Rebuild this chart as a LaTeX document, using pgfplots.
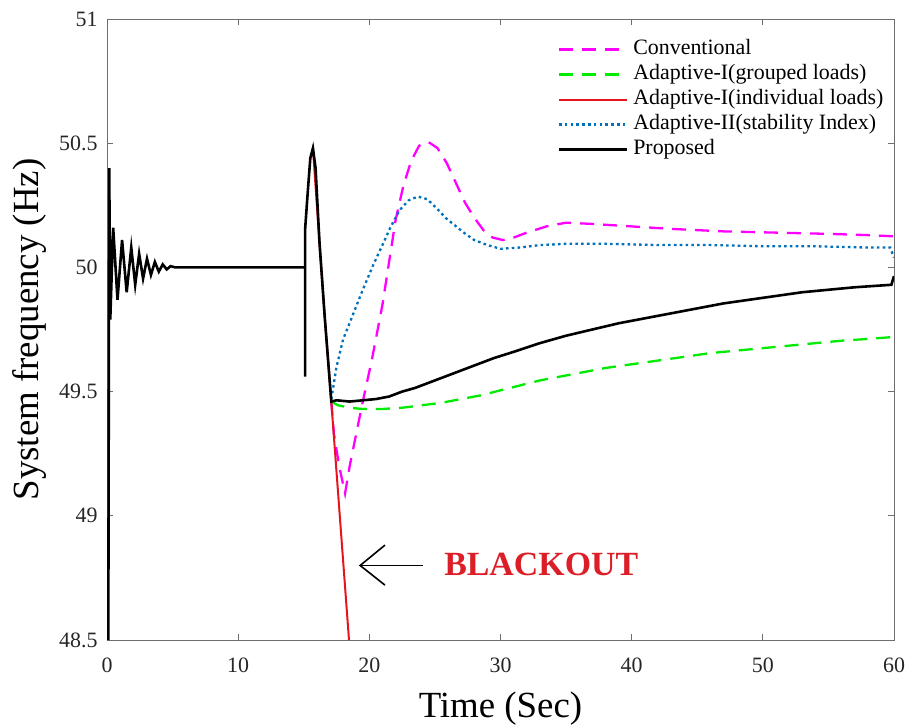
\documentclass[border=0pt]{standalone}
\usepackage{fontspec}
\setmainfont{Liberation Serif}
\usepackage{pgfplots}
\pgfplotsset{compat=1.18}
\definecolor{cmag}{RGB}{255,0,255}
\definecolor{cgreen}{RGB}{0,235,0}
\definecolor{cred}{RGB}{230,20,30}
\definecolor{cblue}{RGB}{0,114,189}
\definecolor{cblk}{RGB}{220,30,40}
\definecolor{axgray}{RGB}{110,110,110}
\begin{document}
\begin{tikzpicture}
\begin{axis}[name=ax,
  scale only axis, width=787bp, height=621bp,
  xmin=0, xmax=60, ymin=48.5, ymax=51,
  xtick={0,10,...,60}, ytick={48.5,49,49.5,50,50.5,51},
  xticklabels={0,10,20,30,40,50,60},
  yticklabels={48.5,49,49.5,50,50.5,51},
  tick align=inside, major tick length=6bp,
  axis line style={draw=axgray, line width=0.9bp},
  every tick/.style={draw=axgray, line width=0.9bp},
  every tick label/.append style={font=\fontsize{22}{24}\selectfont, text=black!85},
  xticklabel style={yshift=-14bp},
  yticklabel style={xshift=-6bp},
  xlabel={Time (Sec)}, ylabel={System frequency (Hz)},
  label style={font=\fontsize{37}{40}\selectfont},
  xlabel style={yshift=-13bp},
  ylabel style={yshift=6bp},
  legend cell align=left,
  legend style={at={(rel axis cs:0.997,0.972)}, anchor=north east, draw=none, fill=none,
    font=\fontsize{22}{24}\selectfont, row sep=3bp,
    nodes={inner ysep=1bp, inner xsep=5bp, text height=15bp, text depth=5bp}},
  legend image code/.code={\draw[#1] (0bp,0bp) -- (68bp,0bp);},
]
\addplot[cmag, line width=2.3bp, dash pattern=on 14bp off 9bp] coordinates {
(17.1,49.46)(17.3,49.33)(17.7,49.2)(18.15,49.09)(18.5,49.2)(19.0,49.33)(19.5,49.46)
(20.2,49.63)(21.0,49.85)(22.0,50.19)(22.6,50.33)(23.2,50.43)(23.8,50.49)(24.5,50.505)
(25.2,50.48)(25.9,50.42)(26.6,50.34)(27.3,50.26)(28.0,50.2)(28.7,50.15)(29.4,50.12)
(30.2,50.11)(31.0,50.12)(32.0,50.14)(33.5,50.165)(35.0,50.18)(37.0,50.175)(40.0,50.165)
(43.0,50.155)(47.0,50.145)(51.0,50.14)(55.0,50.135)(58.0,50.13)(60.0,50.125)};
\addlegendentry{Conventional}
\addplot[cgreen, line width=2.3bp, dash pattern=on 14bp off 9bp] coordinates {
(17.1,49.46)(17.6,49.445)(18.5,49.435)(19.5,49.43)(21,49.43)(22.5,49.435)(24,49.445)
(25.5,49.455)(27,49.47)(28.5,49.485)(30,49.505)(31.5,49.525)(33,49.545)(34.5,49.56)
(36,49.575)(38,49.595)(40,49.61)(42,49.625)(44,49.64)(46,49.655)(48,49.665)(50,49.675)
(52,49.685)(54,49.695)(56,49.705)(58,49.712)(60,49.72)};
\addlegendentry{Adaptive-I(grouped loads)}
\addplot[color=cred, line width=2bp] coordinates {
(15.7,50.48)(16.2,50.1)(16.6,49.8)(17.1,49.46)(18.45,48.5)};
\addlegendentry{Adaptive-I(individual loads)}
\addplot[cblue, line width=2.3bp, dash pattern=on 2.6bp off 3.2bp] coordinates {
(17.1,49.47)(17.5,49.6)(18.0,49.71)(18.6,49.79)(19.5,49.91)(20.3,50.01)(21.0,50.09)
(21.6,50.16)(22.3,50.23)(23.0,50.27)(23.7,50.285)(24.4,50.275)(25.1,50.24)
(25.8,50.2)(26.5,50.17)(27.2,50.14)(28.0,50.11)(29.0,50.09)(30.0,50.075)(31.5,50.08)
(33.0,50.09)(35.0,50.095)(38.0,50.095)(42.0,50.09)(46.0,50.09)(50.0,50.085)(54.0,50.085)
(58.0,50.08)(59.7,50.08)(60.0,50.04)};
\addlegendentry{Adaptive-II(stability Index)}
\addplot[black, line width=2.6bp] coordinates {
(0.1,48.5)(0.17,50.4)(0.25,49.79)(0.47,50.16)(0.8,49.87)(1.15,50.11)(1.5,49.9)(1.85,50.08)
(2.15,49.93)(2.45,50.055)(2.75,49.955)(3.05,50.035)(3.35,49.97)(3.65,50.022)(3.95,49.983)
(4.25,50.012)(4.55,49.992)(4.85,50.005)(5.2,50.0)(15.1,50.0)(15.1,49.56)(15.1,50.15)
(15.3,50.3)(15.5,50.44)(15.7,50.48)(15.9,50.4)(16.2,50.1)(16.6,49.8)(17.1,49.46)
(17.5,49.465)(18.5,49.46)(19.5,49.465)(20.5,49.47)(21.5,49.48)(22.5,49.5)(23.5,49.515)
(24.5,49.535)(25.5,49.555)(26.5,49.575)(27.5,49.595)(28.5,49.615)(29.5,49.635)(31.0,49.66)
(33.0,49.695)(35.0,49.725)(37.0,49.75)(39.0,49.775)(41.0,49.795)(43.0,49.815)(45.0,49.835)
(47.0,49.855)(49.0,49.87)(51.0,49.885)(53.0,49.9)(55.0,49.91)(57.0,49.92)(59.8,49.93)(60.0,49.965)};
\addlegendentry{Proposed}
\draw[black, line width=1.6bp] (axis cs:24.1,48.8) -- (axis cs:19.3,48.8);
\draw[black, line width=1.6bp] (axis cs:21.19,48.882) -- (axis cs:19.3,48.8) -- (axis cs:21.19,48.721);
\node[anchor=west, text=cblk, font=\bfseries\fontsize{34}{36}\selectfont, inner sep=0pt] at (axis cs:25.7,48.805) {BLACKOUT};
\end{axis}
\pgfresetboundingbox
\useasboundingbox ([xshift=-107bp,yshift=-85bp]ax.south west) rectangle ([xshift=16bp,yshift=19bp]ax.north east);
\end{tikzpicture}
\end{document}
